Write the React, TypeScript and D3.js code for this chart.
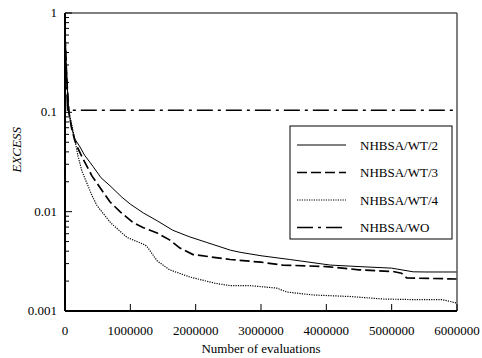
import React, { useEffect, useRef } from 'react';
import * as d3 from 'd3';

// evaluations / EXCESS readings per series
const wt2Evals = [0, 30000, 60000, 100000, 150000, 230000, 300000, 430000, 550000, 690000, 870000, 1000000, 1200000, 1410000, 1650000, 1900000, 2170000, 2530000, 2680000, 3000000, 3440000, 4060000, 4500000, 5000000, 5330000, 5540000, 6000000];
const wt2Excess = [0.58, 0.2, 0.1, 0.07, 0.054, 0.0448, 0.037, 0.0285, 0.022, 0.0182, 0.014, 0.0119, 0.0097, 0.0081, 0.0065, 0.0056, 0.0049, 0.0041, 0.0039, 0.0036, 0.0033, 0.0029, 0.0028, 0.0027, 0.00248, 0.00247, 0.00247];

const wt3Evals = [0, 30000, 60000, 100000, 150000, 200000, 276000, 414000, 582000, 690000, 850000, 1040000, 1200000, 1410000, 1600000, 1760000, 1960000, 2530000, 3000000, 3330000, 4000000, 4500000, 5020000, 5150000, 5230000, 6000000];
const wt3Excess = [0.58, 0.2, 0.1, 0.07, 0.052, 0.043, 0.034, 0.0228, 0.0158, 0.0125, 0.0099, 0.0078, 0.0069, 0.0061, 0.0052, 0.0043, 0.0037, 0.0033, 0.0031, 0.0029, 0.0028, 0.0026, 0.0025, 0.0024, 0.00215, 0.0021];

const wt4Evals = [0, 30000, 60000, 123000, 200000, 260000, 414000, 490000, 700000, 950000, 1040000, 1200000, 1250000, 1330000, 1410000, 1600000, 1910000, 2300000, 2530000, 2830000, 3240000, 3400000, 3800000, 4360000, 4870000, 5400000, 5780000, 6000000];
const wt4Excess = [0.58, 0.2, 0.1, 0.066, 0.036, 0.0255, 0.0145, 0.0115, 0.0077, 0.0055, 0.0052, 0.0047, 0.0045, 0.0038, 0.0032, 0.0026, 0.0022, 0.0019, 0.0018, 0.0018, 0.0017, 0.00155, 0.00145, 0.0014, 0.00132, 0.0013, 0.0013, 0.0012];

const woEvals = [0, 40000, 100000, 6000000];
const woExcess = [0.58, 0.105, 0.105, 0.105];

const seriesNames = ['NHBSA/WT/2', 'NHBSA/WT/3', 'NHBSA/WT/4', 'NHBSA/WO'];
const xTicks = [0, 1000000, 2000000, 3000000, 4000000, 5000000, 6000000];
const yTicks = [1, 0.1, 0.01, 0.001];
const yTickLabels = ['1', '0.1', '0.01', '0.001'];

const App: React.FC = () => {
  const svgRef = useRef<SVGSVGElement>(null);

  useEffect(() => {
    if (!svgRef.current) return;
    const svg = d3.select(svgRef.current);
    svg.selectAll('*').remove();

    const margin = { top: 13, right: 25, bottom: 47, left: 65 };
    const width = 482 - margin.left - margin.right;
    const height = 358 - margin.top - margin.bottom;
    const font = '"Liberation Serif", "Times New Roman", serif';

    const x = d3.scaleLinear().domain([0, 6000000]).range([0, width]);
    const y = d3.scaleLog().domain([0.001, 1]).range([height, 0]);

    const g = svg.append('g').attr('transform', `translate(${margin.left},${margin.top})`);

    const styles = [
      { evals: wt2Evals, vals: wt2Excess, width: 1, dash: null as string | null },
      { evals: wt3Evals, vals: wt3Excess, width: 1.7, dash: '10,4' },
      { evals: wt4Evals, vals: wt4Excess, width: 1.2, dash: '1.2,1.2' },
      { evals: woEvals, vals: woExcess, width: 1.7, dash: '16,5,3,5' },
    ];

    const line = d3
      .line<[number, number]>()
      .x(d => x(d[0]))
      .y(d => y(d[1]));

    styles.forEach(s => {
      const pts = s.evals.map((e, i) => [e, s.vals[i]] as [number, number]);
      const p = g
        .append('path')
        .datum(pts)
        .attr('fill', 'none')
        .attr('stroke', '#000')
        .attr('stroke-width', s.width)
        .attr('d', line);
      if (s.dash) p.attr('stroke-dasharray', s.dash);
    });

    // frame
    g.append('line').attr('x1', 0).attr('x2', width).attr('y1', 0).attr('y2', 0).attr('stroke', '#000').attr('stroke-width', 1);
    g.append('line').attr('x1', width).attr('x2', width).attr('y1', 0).attr('y2', height).attr('stroke', '#555').attr('stroke-width', 1.5);
    g.append('line').attr('x1', 0).attr('x2', 0).attr('y1', 0).attr('y2', height).attr('stroke', '#000').attr('stroke-width', 2);
    g.append('line').attr('x1', 0).attr('x2', width).attr('y1', height).attr('y2', height).attr('stroke', '#000').attr('stroke-width', 2);

    // x ticks (inside)
    xTicks.forEach(t => {
      g.append('line').attr('x1', x(t)).attr('x2', x(t)).attr('y1', height).attr('y2', height - 7).attr('stroke', '#000').attr('stroke-width', 1);
      g.append('text')
        .attr('x', x(t))
        .attr('y', height + 24)
        .attr('text-anchor', 'middle')
        .attr('font-family', font)
        .attr('font-size', 13)
        .text(d3.format('d')(t));
    });

    // y ticks: majors + log minors
    yTicks.forEach((t, i) => {
      g.append('line').attr('x1', 0).attr('x2', 7).attr('y1', y(t)).attr('y2', y(t)).attr('stroke', '#000').attr('stroke-width', 1);
      g.append('text')
        .attr('x', -8)
        .attr('y', y(t) + 4)
        .attr('text-anchor', 'end')
        .attr('font-family', font)
        .attr('font-size', 13)
        .text(yTickLabels[i]);
    });
    [0.001, 0.01, 0.1].forEach(base => {
      d3.range(2, 10).forEach(m => {
        const v = base * m;
        g.append('line').attr('x1', 0).attr('x2', 4).attr('y1', y(v)).attr('y2', y(v)).attr('stroke', '#000').attr('stroke-width', 1);
      });
    });

    // axis titles
    g.append('text')
      .attr('x', width / 2)
      .attr('y', height + 42)
      .attr('text-anchor', 'middle')
      .attr('font-family', font)
      .attr('font-size', 13)
      .text('Number of evaluations');
    g.append('text')
      .attr('transform', `translate(${-margin.left + 21},${y(0.042)}) rotate(-90)`)
      .attr('text-anchor', 'middle')
      .attr('font-family', font)
      .attr('font-style', 'italic')
      .attr('font-size', 13)
      .text('EXCESS');

    // legend
    const legend = g.append('g').attr('transform', `translate(${225},${113})`);
    legend.append('rect').attr('width', 162).attr('height', 113).attr('fill', '#fff').attr('stroke', '#000').attr('stroke-width', 1);
    seriesNames.forEach((name, i) => {
      const yy = 19 + i * 27.5;
      const s = styles[i];
      const l = legend.append('line').attr('x1', 7).attr('x2', 56).attr('y1', yy).attr('y2', yy).attr('stroke', '#000').attr('stroke-width', s.width);
      if (s.dash) l.attr('stroke-dasharray', s.dash);
      legend.append('text')
        .attr('x', 70)
        .attr('y', yy + 4.5)
        .attr('font-family', font)
        .attr('font-size', 13)
        .text(name);
    });
  }, []);

  return (
    <svg
      ref={svgRef}
      width={482}
      height={358}
      style={{ position: 'absolute', left: 0, top: 0, background: '#fff' }}
    ></svg>
  );
};

export default App;
